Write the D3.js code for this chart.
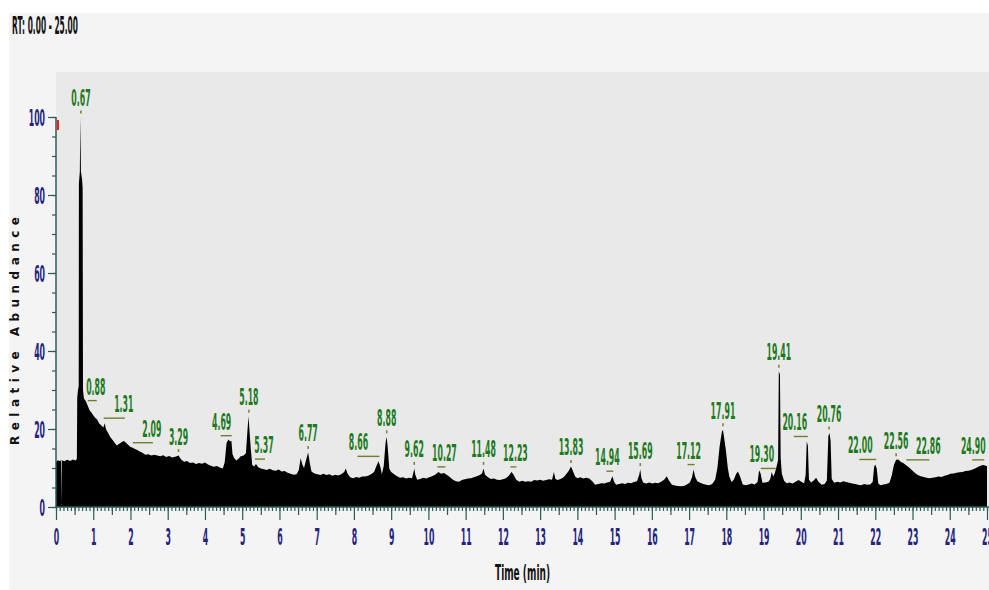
<!DOCTYPE html>
<html>
<head>
<meta charset="utf-8">
<script src="https://cdn.jsdelivr.net/npm/d3@7"></script>
<style>
  body { margin: 0; background: #ffffff; }
  svg { display: block; }
</style>
</head>
<body>
<svg id="chart" width="989" height="590"></svg>
<script>
// Total ion chromatogram, RT 0.00 - 25.00 min: [time (min), relative abundance (%)]
const trace = [
  [0.00,11.5],[0.05,12.0],[0.10,11.8],[0.14,12.0],[0.15,0.5],[0.16,12.0],[0.22,11.7],[0.30,12.1],
  [0.38,11.8],[0.45,12.2],[0.52,11.9],[0.56,12.3],[0.57,28.0],[0.59,30.0],[0.61,31.0],[0.615,83.0],
  [0.64,86.0],[0.655,100.0],[0.67,86.0],[0.70,84.0],[0.715,82.0],[0.725,30.0],[0.75,27.8],[0.80,27.2],
  [0.85,26.0],[0.90,24.8],[0.95,24.2],[1.00,23.5],[1.05,22.9],[1.10,22.5],[1.16,21.4],[1.22,20.9],
  [1.27,20.4],[1.31,21.5],[1.34,20.0],[1.40,19.0],[1.46,17.9],[1.52,17.2],[1.58,16.4],[1.63,15.8],
  [1.70,16.2],[1.76,16.6],[1.82,16.9],[1.88,16.5],[1.94,15.9],[2.00,15.4],[2.06,15.2],[2.12,14.9],
  [2.18,14.6],[2.25,14.2],[2.32,13.9],[2.40,13.4],[2.48,13.5],[2.56,13.2],[2.64,13.4],[2.72,13.2],
  [2.80,13.0],[2.88,13.3],[2.96,12.8],[3.04,13.1],[3.12,12.7],[3.20,12.9],[3.29,13.2],[3.36,12.2],
  [3.44,11.6],[3.52,11.8],[3.60,11.3],[3.68,11.4],[3.76,11.0],[3.84,11.3],[3.92,11.1],[4.00,11.4],
  [4.08,10.9],[4.16,10.6],[4.24,10.3],[4.32,10.5],[4.40,10.1],[4.48,9.9],[4.53,11.5],[4.58,16.4],
  [4.63,17.3],[4.68,16.8],[4.71,17.0],[4.74,13.5],[4.78,12.6],[4.84,11.9],[4.90,12.4],[4.96,13.0],
  [5.04,13.2],[5.10,13.8],[5.14,19.5],[5.17,23.3],[5.20,19.0],[5.23,15.0],[5.27,10.8],[5.32,10.4],
  [5.37,11.0],[5.43,10.2],[5.50,9.9],[5.58,9.7],[5.66,9.5],[5.74,9.8],[5.82,9.4],[5.90,9.3],
  [5.98,9.6],[6.06,9.1],[6.14,9.2],[6.22,8.8],[6.30,8.5],[6.38,8.3],[6.46,8.4],[6.52,9.5],
  [6.57,12.5],[6.62,10.8],[6.66,10.0],[6.70,11.5],[6.77,14.0],[6.82,11.0],[6.86,9.1],[6.94,8.6],
  [7.02,8.4],[7.10,8.2],[7.18,8.5],[7.26,8.2],[7.34,8.4],[7.42,8.0],[7.50,8.3],[7.58,8.1],
  [7.66,8.4],[7.74,9.0],[7.78,9.9],[7.83,8.5],[7.90,7.6],[7.98,7.4],[8.06,7.7],[8.14,7.5],
  [8.22,7.8],[8.30,7.8],[8.38,8.0],[8.46,8.4],[8.54,9.0],[8.60,10.4],[8.66,11.7],[8.71,10.3],
  [8.75,8.4],[8.80,10.5],[8.85,16.5],[8.88,18.0],[8.91,15.0],[8.95,9.8],[9.00,9.0],[9.08,8.4],
  [9.16,7.9],[9.24,7.5],[9.32,7.6],[9.40,7.3],[9.48,7.5],[9.56,7.4],[9.60,9.0],[9.62,9.9],
  [9.65,8.2],[9.70,7.0],[9.78,7.2],[9.86,7.5],[9.94,7.3],[10.02,7.6],[10.10,7.9],[10.18,8.3],
  [10.27,9.0],[10.34,8.5],[10.42,8.7],[10.50,8.2],[10.58,7.6],[10.66,7.0],[10.74,6.6],[10.82,6.5],
  [10.90,6.9],[10.98,7.1],[11.06,7.3],[11.14,7.4],[11.22,7.6],[11.30,7.9],[11.38,8.2],[11.44,8.6],
  [11.48,9.9],[11.52,8.3],[11.60,7.6],[11.68,7.2],[11.76,7.3],[11.84,7.0],[11.92,6.9],[12.00,7.1],
  [12.08,7.4],[12.16,8.0],[12.23,9.0],[12.28,8.4],[12.36,7.0],[12.44,6.5],[12.52,6.7],[12.60,6.5],
  [12.68,6.6],[12.76,6.5],[12.84,6.9],[12.92,6.8],[13.00,7.0],[13.08,6.7],[13.16,6.9],[13.24,7.1],
  [13.32,7.0],[13.37,9.0],[13.41,7.2],[13.47,6.9],[13.55,7.2],[13.63,7.6],[13.70,8.4],[13.77,9.3],
  [13.83,10.4],[13.88,9.2],[13.94,7.8],[14.00,7.4],[14.08,7.6],[14.16,7.3],[14.24,7.5],[14.32,7.3],
  [14.40,6.6],[14.48,5.7],[14.56,5.9],[14.64,6.1],[14.72,6.0],[14.80,6.3],[14.88,6.5],[14.94,7.9],
  [14.99,6.4],[15.04,5.7],[15.12,5.9],[15.20,6.1],[15.28,5.9],[15.36,6.2],[15.44,6.1],[15.52,6.4],
  [15.60,6.6],[15.66,8.2],[15.69,9.6],[15.72,7.4],[15.77,6.2],[15.85,6.0],[15.93,6.3],[16.01,6.0],
  [16.09,6.2],[16.17,6.1],[16.25,6.5],[16.33,7.0],[16.40,7.9],[16.46,6.8],[16.54,5.7],[16.62,5.5],
  [16.70,5.4],[16.78,5.3],[16.86,5.4],[16.94,5.8],[17.02,6.3],[17.08,7.6],[17.12,9.6],[17.16,7.8],
  [17.22,6.6],[17.30,6.2],[17.38,5.9],[17.46,5.7],[17.54,5.6],[17.62,5.9],[17.70,7.0],[17.76,10.0],
  [17.82,15.5],[17.88,19.2],[17.91,19.8],[17.95,17.2],[17.99,14.4],[18.04,10.0],[18.08,7.8],[18.14,6.4],
  [18.20,7.0],[18.26,8.4],[18.31,9.1],[18.37,7.8],[18.44,5.8],[18.52,5.6],[18.60,5.8],[18.68,6.0],
  [18.76,5.8],[18.84,6.4],[18.88,9.4],[18.92,8.6],[18.97,6.2],[19.05,6.3],[19.13,6.5],[19.18,7.2],
  [19.22,9.0],[19.26,7.8],[19.30,8.6],[19.35,10.4],[19.39,12.0],[19.41,34.8],[19.44,34.0],[19.46,12.5],
  [19.49,8.6],[19.55,6.7],[19.62,6.1],[19.70,6.3],[19.78,6.0],[19.86,6.5],[19.94,6.9],[20.02,6.4],
  [20.09,6.1],[20.13,8.2],[20.16,16.8],[20.19,15.8],[20.22,7.0],[20.28,6.3],[20.36,6.9],[20.41,7.5],
  [20.48,6.4],[20.56,5.7],[20.64,5.9],[20.70,6.8],[20.74,18.2],[20.77,19.0],[20.80,17.0],[20.83,7.2],
  [20.90,6.2],[20.98,6.5],[21.06,6.3],[21.14,6.6],[21.22,6.4],[21.30,6.2],[21.38,6.0],[21.46,5.9],
  [21.54,5.7],[21.62,5.6],[21.70,5.9],[21.78,5.7],[21.86,5.8],[21.93,6.4],[21.97,10.3],[22.00,10.9],
  [22.04,9.8],[22.08,6.0],[22.14,5.6],[22.22,5.8],[22.30,5.9],[22.38,6.2],[22.44,8.0],[22.50,10.8],
  [22.56,12.1],[22.62,12.2],[22.68,11.6],[22.75,11.3],[22.82,10.8],[22.90,10.2],[22.98,9.5],[23.06,8.8],
  [23.14,8.2],[23.22,7.9],[23.30,7.7],[23.38,7.5],[23.46,7.4],[23.54,7.5],[23.62,7.6],[23.70,7.8],
  [23.78,7.7],[23.86,8.0],[23.94,8.2],[24.02,8.5],[24.10,8.6],[24.18,8.8],[24.26,8.9],[24.34,9.0],
  [24.42,9.2],[24.50,9.3],[24.58,9.5],[24.66,9.8],[24.74,10.2],[24.82,10.6],[24.90,10.8],[24.96,10.6],
  [25.00,10.5]
];

// Retention times of the annotated peaks (min)
const peakTimes = [0.67,0.88,1.31,2.09,3.29,4.69,5.18,5.37,6.77,8.66,8.88,9.62,10.27,11.48,
                   12.23,13.83,14.94,15.69,17.12,17.91,19.30,19.41,20.16,20.76,22.00,22.56,22.86,24.90];
// Horizontal offset of each peak label from its peak, in px (0 = label sits right above)
const labelShift = [0,7,19,18,0,-9,0,8,0,-20,0,0,6,0,4,0,-5,0,-5,0,-13,0,-12,0,-15,0,21,-10];

// Axis ticks
const xMajorTicks = d3.range(0, 26);
const yMajorTicks = [0, 20, 40, 60, 80, 100];

const svg = d3.select("#chart");
const x = d3.scaleLinear().domain([0, 25]).range([56, 987]);
const y = d3.scaleLinear().domain([0, 100]).range([507, 117]);

const SQ = 0.34;           // horizontal squeeze for the narrow instrument font
const FS = 23;             // font size of the numeric labels
const FONT = "DejaVu Sans";

// panels
svg.append("rect").attr("x", 9).attr("y", 13).attr("width", 980).attr("height", 577).attr("fill", "#f4f4f4");
svg.append("rect").attr("x", x(0)).attr("y", 72).attr("width", 989 - x(0)).attr("height", y(0) - 72).attr("fill", "#e9e9e9");

// chromatogram trace
const area = d3.area().x(d => x(d[0])).y0(y(0)).y1(d => y(d[1]));
svg.append("path").datum(trace).attr("d", area).attr("fill", "#000000");

// axes
const axisColor = "#2f5a5a";
const labelColor = "#23237e";

function styleAxis(g) {
  g.select(".domain").remove();
  g.selectAll(".tick line").attr("stroke", axisColor).attr("stroke-width", 1.2);
}

svg.append("g").attr("transform", `translate(0,${y(0)})`)
  .call(d3.axisBottom(x).tickValues(d3.range(0, 251).map(i => i / 10)).tickSize(4).tickFormat(""))
  .call(styleAxis);
svg.append("g").attr("transform", `translate(0,${y(0)})`)
  .call(d3.axisBottom(x).tickValues(d3.range(0, 50).map(i => i + 0.5)).tickSize(8).tickFormat(""))
  .call(styleAxis);
const xg = svg.append("g").attr("transform", `translate(0,${y(0)})`)
  .call(d3.axisBottom(x).tickValues(xMajorTicks).tickSize(13).tickPadding(9).tickFormat(d3.format("d")))
  .call(styleAxis);
xg.selectAll(".tick text")
  .attr("fill", labelColor).attr("font-family", FONT).attr("font-weight", "bold")
  .attr("font-size", FS).attr("transform", `scale(${SQ},1)`);

svg.append("g").attr("transform", `translate(${x(0)},0)`)
  .call(d3.axisLeft(y).tickValues(d3.range(0, 101, 5)).tickSize(4).tickFormat(""))
  .call(styleAxis);
const yg = svg.append("g").attr("transform", `translate(${x(0)},0)`)
  .call(d3.axisLeft(y).tickValues(yMajorTicks).tickSize(8).tickFormat(d3.format("d")))
  .call(styleAxis);
yg.selectAll(".tick text")
  .attr("x", 0).attr("dy", "0.36em")
  .attr("fill", labelColor).attr("font-family", FONT).attr("font-weight", "bold")
  .attr("font-size", FS).attr("transform", `translate(-11,0) scale(${SQ},1)`);

// axis lines
svg.append("line").attr("x1", x(0)).attr("x2", 989).attr("y1", y(0)).attr("y2", y(0))
  .attr("stroke", axisColor).attr("stroke-width", 1.5);
svg.append("line").attr("x1", x(0)).attr("x2", x(0)).attr("y1", y(100)).attr("y2", y(0))
  .attr("stroke", axisColor).attr("stroke-width", 1.5);

// red marker at the top of the scale
svg.append("rect").attr("x", x(0) + 0.8).attr("y", y(100) + 3).attr("width", 2.2).attr("height", 10).attr("fill", "#e8231e");

// peak labels
function apexAt(t) {
  const near = trace.filter(p => Math.abs(p[0] - t) <= 0.04);
  if (near.length) return d3.max(near, p => p[1]);
  const i = d3.bisector(p => p[0]).left(trace, t);
  const a = trace[i - 1], b = trace[i];
  return a[1] + (b[1] - a[1]) * (t - a[0]) / (b[0] - a[0]);
}

const labels = svg.append("g");
peakTimes.forEach((t, i) => {
  const px = x(t);
  const cy = y(apexAt(t)) - 5;
  const lx = px + labelShift[i];
  if (labelShift[i] === 0) {
    labels.append("line").attr("x1", px).attr("x2", px).attr("y1", cy - 1.5).attr("y2", cy + 1.5)
      .attr("stroke", "#7c8a32").attr("stroke-width", 1.6);
  } else {
    labels.append("line").attr("x1", Math.min(lx, px) - 1).attr("x2", Math.max(lx, px) + 1)
      .attr("y1", cy).attr("y2", cy)
      .attr("stroke", "#6f7f2a").attr("stroke-width", 1.4);
  }
  labels.append("text")
    .attr("transform", `translate(${lx},${cy - 6}) scale(${SQ},1)`)
    .attr("text-anchor", "middle")
    .attr("font-family", FONT).attr("font-weight", "bold").attr("font-size", FS)
    .attr("fill", "#1c7a1c")
    .text(t.toFixed(2));
});

// titles
svg.append("text").attr("x", 12).attr("y", 34)
  .attr("font-family", FONT).attr("font-weight", "bold").attr("font-size", 24)
  .attr("textLength", 66).attr("lengthAdjust", "spacingAndGlyphs")
  .attr("fill", "#111").text("RT: 0.00 - 25.00");

svg.append("text").attr("x", 495).attr("y", 580)
  .attr("font-family", FONT).attr("font-weight", "bold").attr("font-size", 22)
  .attr("textLength", 55).attr("lengthAdjust", "spacingAndGlyphs")
  .attr("fill", "#111").text("Time (min)");

svg.append("text").attr("transform", "translate(15,331) rotate(-90)")
  .attr("text-anchor", "middle").attr("dy", "0.36em")
  .attr("font-family", FONT).attr("font-weight", "bold").attr("font-size", 12)
  .attr("textLength", 228).attr("lengthAdjust", "spacing")
  .attr("fill", "#111").text("Relative Abundance");
</script>
</body>
</html>
